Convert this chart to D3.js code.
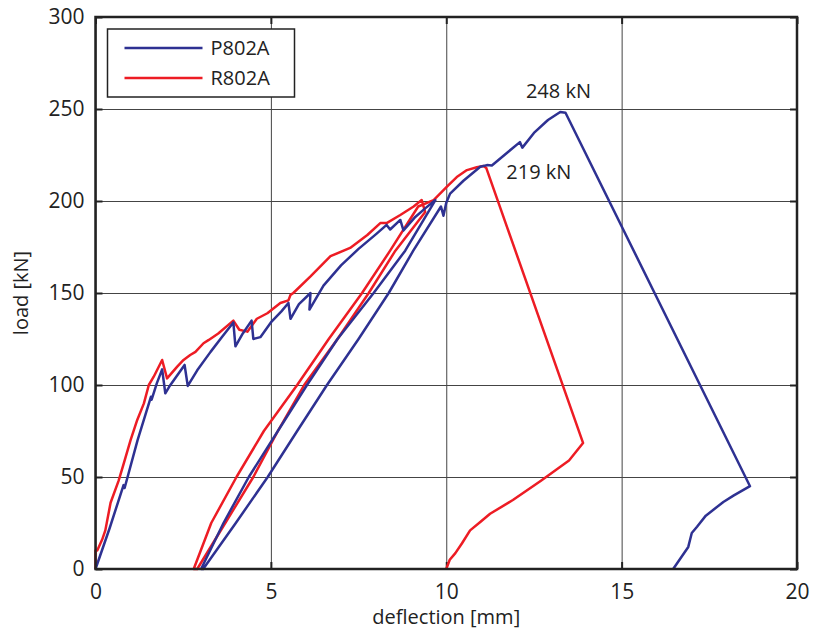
<!DOCTYPE html>
<html>
<head>
<meta charset="utf-8">
<script src="https://cdn.jsdelivr.net/npm/d3@7"></script>
<style>
  body { margin: 0; background: #fff; }
  text { font-family: "Open Sans", sans-serif; fill: #222; }
  .grid line { stroke: #444; stroke-width: 1; }
  .line { fill: none; stroke-width: 2.5; stroke-linejoin: round; }
</style>
</head>
<body>
<svg width="813" height="632"></svg>
<script>
// deflection [mm], load [kN]
var p802aX = [0, 0.4, 0.8, 0.83, 1.2, 1.58, 1.6, 1.75, 1.9, 1.99, 2.1, 2.54, 2.63, 2.9, 3.28, 3.6, 3.93, 3.99, 4.2, 4.45, 4.5, 4.7, 5.0, 5.3, 5.5, 5.56, 5.8, 6.13, 6.1, 6.5, 7.0, 7.5, 8.0, 8.3, 8.4, 8.69, 8.78, 9.1, 9.4, 9.69,
  8.83, 7.93, 6.9, 6.03, 5.2, 4.37, 3.65, 3.01,
  3.07, 4.0, 4.91, 5.75, 6.6, 7.5, 8.36, 9.06, 9.85, 9.92, 10.0, 10.11, 10.49, 10.97, 11.16, 11.3, 11.77, 12.1, 12.17, 12.5, 12.9, 13.25, 13.4,
  18.66, 18.2, 17.9, 17.4, 17.15, 17.0, 16.9, 16.47];
var p802aY = [0, 22, 45.6, 44, 70, 93.6, 92, 101, 108.5, 95.5, 99, 110.9, 99.5, 108, 118, 126, 134, 121, 128, 135, 125, 126, 134, 140, 144.6, 136, 144, 150, 141, 154, 165, 174, 182, 187, 184.5, 189.7, 184, 191, 196, 200.5,
  173, 150, 125, 100, 75, 50, 25, 0,
  0, 25, 50, 75, 100, 125, 150, 173, 197, 192, 199, 204, 211, 218.6, 219.5, 219.3, 226.8, 232, 229, 237, 244, 248.4, 248,
  45, 40, 36.4, 29, 23, 19.6, 12, 0];

var r802aX = [0, 0, 0.05, 0.19, 0.28, 0.43, 0.66, 0.8, 1.0, 1.19, 1.38, 1.52, 1.66, 1.9, 2.04, 2.33, 2.51, 2.7, 2.85, 3.08, 3.23, 3.5, 3.93, 4.1, 4.33, 4.6, 4.9, 5.27, 5.5, 5.56, 5.64, 6.13, 6.7, 7.26, 7.75, 8.12, 8.3, 8.69, 9.07, 9.3, 9.4,
  8.55, 7.79, 6.9, 5.95, 5.2, 4.5, 3.7, 2.9,
  2.8, 3.3, 4.02, 4.8, 5.75, 6.65, 7.6, 8.4, 9.2, 9.64, 10.02, 10.3, 10.59, 10.87, 11.06, 11.14,
  13.9, 13.5, 12.7, 11.9, 11.25, 10.97, 10.68, 10.45, 10.26, 10.1, 10.0];
var r802aY = [0, 10, 10, 16, 21, 36, 48, 57, 70, 81, 90, 100, 104.5, 113.6, 103.6, 110, 113.6, 116.3, 118, 122.7, 124.5, 128, 135, 130, 129, 136, 139, 144.6, 146, 149, 150, 159, 170, 174.5, 181.5, 188, 188, 192.4, 197, 200.5, 194,
  173, 150, 125, 100, 75, 50, 25, 0,
  0, 25, 50, 75, 100, 125, 150, 173, 197, 200.5, 207.8, 213, 216.8, 218.3, 219, 218,
  68.5, 59, 48, 37.5, 30, 25.5, 21, 14, 8.6, 5, 0];

var xTicks = [0, 5, 10, 15, 20];
var yTicks = [0, 50, 100, 150, 200, 250, 300];
var seriesNames = ["P802A", "R802A"];
var seriesColors = ["#2e3192", "#ed1c24"];
var peakLabels = [{text: "248 kN", x: 13.2, y: 248, dx: 0, dy: -15},
                  {text: "219 kN", x: 11.1, y: 219, dx: 54, dy: 13}];

var svg = d3.select("svg"),
    margin = {top: 17, right: 16, bottom: 63, left: 95.5},
    width = svg.attr("width") - margin.left - margin.right,
    height = svg.attr("height") - margin.top - margin.bottom,
    g = svg.append("g").attr("transform", "translate(" + margin.left + "," + margin.top + ")");

var x = d3.scaleLinear().domain([0, 20]).range([0, width]);
var y = d3.scaleLinear().domain([0, 300]).range([height, 0]);

// grid
g.append("g")
    .attr("class", "grid")
    .attr("transform", "translate(0," + height + ")")
    .call(d3.axisBottom(x).tickValues(xTicks).tickSize(-height).tickFormat(""))
    .call(function(s) { s.select(".domain").remove(); });
g.append("g")
    .attr("class", "grid")
    .call(d3.axisLeft(y).tickValues(yTicks).tickSize(-width).tickFormat(""))
    .call(function(s) { s.select(".domain").remove(); });

// axes with inward ticks (box style)
function styleAxis(s) {
  s.select(".domain").remove();
  s.selectAll(".tick line").attr("stroke", "#222").attr("stroke-width", 2);
  s.selectAll(".tick text").style("font-size", "21px").attr("fill", "#222");
}
g.append("g")
    .attr("class", "axis axis--x")
    .attr("transform", "translate(0," + height + ")")
    .call(d3.axisBottom(x).tickValues(xTicks).tickSizeInner(-7).tickSizeOuter(0).tickPadding(15))
    .call(styleAxis);
g.append("g")
    .attr("class", "axis axis--y")
    .call(d3.axisLeft(y).tickValues(yTicks).tickSizeInner(-7).tickSizeOuter(0).tickPadding(11))
    .call(styleAxis);
g.append("g")
    .call(d3.axisTop(x).tickValues(xTicks).tickSizeInner(-7).tickSizeOuter(0).tickFormat(""))
    .call(styleAxis);
g.append("g")
    .attr("transform", "translate(" + width + ",0)")
    .call(d3.axisRight(y).tickValues(yTicks).tickSizeInner(-7).tickSizeOuter(0).tickFormat(""))
    .call(styleAxis);

var line = d3.line()
    .x(function(d) { return x(d[0]); })
    .y(function(d) { return y(d[1]); });

var data = [d3.zip(p802aX, p802aY), d3.zip(r802aX, r802aY)];

g.selectAll(".line")
    .data(data.slice().reverse())
    .enter().append("path")
    .attr("class", "line")
    .attr("stroke", function(d, i) { return seriesColors[1 - i]; })
    .attr("d", line);

// frame
g.append("rect")
    .attr("width", width).attr("height", height)
    .attr("fill", "none").attr("stroke", "#222").attr("stroke-width", 2.5);

// peak labels
g.selectAll(".peak")
    .data(peakLabels)
    .enter().append("text")
    .attr("class", "peak")
    .attr("x", function(d) { return x(d.x) + d.dx; })
    .attr("y", function(d) { return y(d.y) + d.dy; })
    .attr("text-anchor", "middle")
    .style("font-size", "20px")
    .text(function(d) { return d.text; });

// legend
var legend = g.append("g").attr("transform", "translate(12,12)");
legend.append("rect")
    .attr("width", 187).attr("height", 68)
    .attr("fill", "#fff").attr("stroke", "#222").attr("stroke-width", 1.5);
seriesNames.forEach(function(name, i) {
  var ly = 19 + i * 30;
  legend.append("line")
      .attr("x1", 17).attr("x2", 95).attr("y1", ly).attr("y2", ly)
      .attr("stroke", seriesColors[i]).attr("stroke-width", 2.5);
  legend.append("text")
      .attr("x", 103).attr("y", ly + 7)
      .style("font-size", "20px")
      .text(name);
});

// axis titles
svg.append("text")
    .attr("x", margin.left + width / 2).attr("y", 624)
    .attr("text-anchor", "middle")
    .style("font-size", "20px")
    .text("deflection [mm]");
svg.append("text")
    .attr("transform", "translate(28," + (margin.top + height / 2) + ") rotate(-90)")
    .attr("text-anchor", "middle")
    .style("font-size", "20px")
    .text("load [kN]");
</script>
</body>
</html>
